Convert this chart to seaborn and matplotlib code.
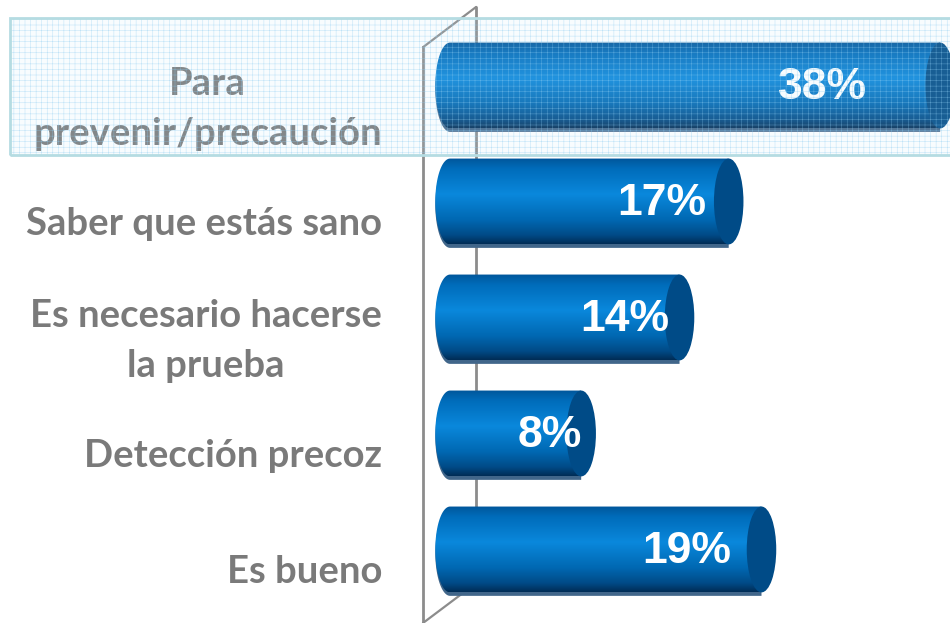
import numpy as np
import matplotlib.pyplot as plt
import seaborn as sns
from matplotlib.colors import LinearSegmentedColormap
from matplotlib.patches import Polygon, Ellipse, Rectangle
from matplotlib.transforms import ScaledTranslation

# Datos
categories = ["Para\nprevenir/precaución", "Saber que estás sano",
              "Es necesario hacerse\nla prueba", "Detección precoz", "Es bueno"]
values = [38, 17, 14, 8, 19]
value_labels = ["38%", "17%", "14%", "8%", "19%"]

gray = "#8c8c8c"
label_gray = "#7a7a7a"
x_max = 29.9      # maximo del eje original: la barra de 38% se corta ahi
cap = 0.9         # media anchura de la tapa del cilindro (en unidades de x)

sns.set_style("white")
plt.rcParams["font.family"] = ["Lato", "DejaVu Sans"]
plt.rcParams["hatch.linewidth"] = 0.35

fig = plt.figure(figsize=(9.5, 6.23), dpi=100)
ax = fig.add_axes([423 / 950, 0, 527 / 950, 1])

sns.barplot(x=values, y=categories, orient="h", width=0.74, color="#0070c0", ax=ax)

# degradado vertical de los cilindros
bar_cmap = LinearSegmentedColormap.from_list("cyl", [
    (0.0, "#00569a"), (0.12, "#006cba"), (0.42, "#0a88dc"),
    (0.72, "#0068b2"), (0.9, "#004a86"), (1.0, "#002c55")])
grad = np.linspace(0, 1, 256).reshape(-1, 1)

for p, lab in zip(list(ax.patches), value_labels):
    y0, h = p.get_y(), p.get_height()
    w = min(p.get_width(), x_max)
    yc = y0 + h / 2
    p.set_visible(False)

    t = np.linspace(0, np.pi, 60)
    pts = np.column_stack([-cap * np.sin(t), yc - h / 2 * np.cos(t)])
    pts = np.vstack([pts, [[w, y0 + h], [w, y0]]])

    # sombra inferior
    ax.add_patch(Polygon(pts + [0, 0.03], closed=True, facecolor="#41668a",
                         edgecolor="none", zorder=2))
    body = Polygon(pts, closed=True, transform=ax.transData)
    im = ax.imshow(grad, cmap=bar_cmap, aspect="auto", origin="upper",
                   extent=(-cap, w, y0 + h, y0), interpolation="bicubic", zorder=3)
    im.set_clip_path(body)
    ax.add_patch(Ellipse((w, yc), 2 * cap, h, facecolor="#004b87",
                         edgecolor="none", zorder=4))
    ax.text(0.76 * w, yc + 0.02, lab, ha="center", va="center", color="white",
            fontsize=32, fontweight="bold", family=["Liberation Sans", "DejaVu Sans"],
            zorder=5)

ax.set_xlim(-1.65, 30.5)
ax.set_ylim(4.634, -0.737)
ax.set_xticks([])
ax.set_xlabel("")
ax.set_ylabel("")

# etiquetas de categoria y marcas del eje frontal
ax.set_yticks(np.arange(len(categories)) + 0.17, labels=categories)
ax.set_yticks(np.arange(len(categories)) - 0.33, minor=True)
ax.tick_params(axis="y", which="major", length=0, pad=29.5,
               labelsize=27.5, labelcolor=label_gray)
ax.tick_params(axis="y", which="minor", length=9.4, width=2, color=gray)
shift_up = ScaledTranslation(0, 0.07, fig.dpi_scale_trans)
for tl in ax.get_yticklabels():
    tl.set_fontweight("bold")
    tl.set_multialignment("center")
    tl.set_linespacing(1.55)
    if "\n" in tl.get_text():
        tl.set_transform(tl.get_transform() + shift_up)

for s in ["top", "right", "bottom"]:
    ax.spines[s].set_visible(False)
ax.spines["left"].set_color(gray)
ax.spines["left"].set_linewidth(2)
ax.spines["left"].set_bounds(-0.33, 4.634)

# pared del fondo (efecto 3D)
ax.plot([1.59, 1.59], [-0.677, 4.29], color=gray, lw=2, zorder=1)
ax.plot([-1.65, 1.59], [-0.33, -0.677], color=gray, lw=1.6, zorder=1, clip_on=False)
ax.plot([-1.65, 1.59], [4.634, 4.29], color=gray, lw=1.6, zorder=1, clip_on=False)

# recuadro resaltado de la primera categoria
fig.patches.append(Rectangle((10 / 950, 1 - 155 / 623), 1, 137 / 623,
                             transform=fig.transFigure, facecolor=(0.8, 0.91, 0.97, 0.12),
                             edgecolor=(0.55, 0.8, 0.95, 0.55), hatch="+++",
                             linewidth=0, zorder=5))
fig.patches.append(Rectangle((10 / 950, 1 - 155 / 623), 1, 137 / 623,
                             transform=fig.transFigure, facecolor="none",
                             edgecolor="#b5dce2", linewidth=2, zorder=6))

fig.savefig("out.png", dpi=100)
